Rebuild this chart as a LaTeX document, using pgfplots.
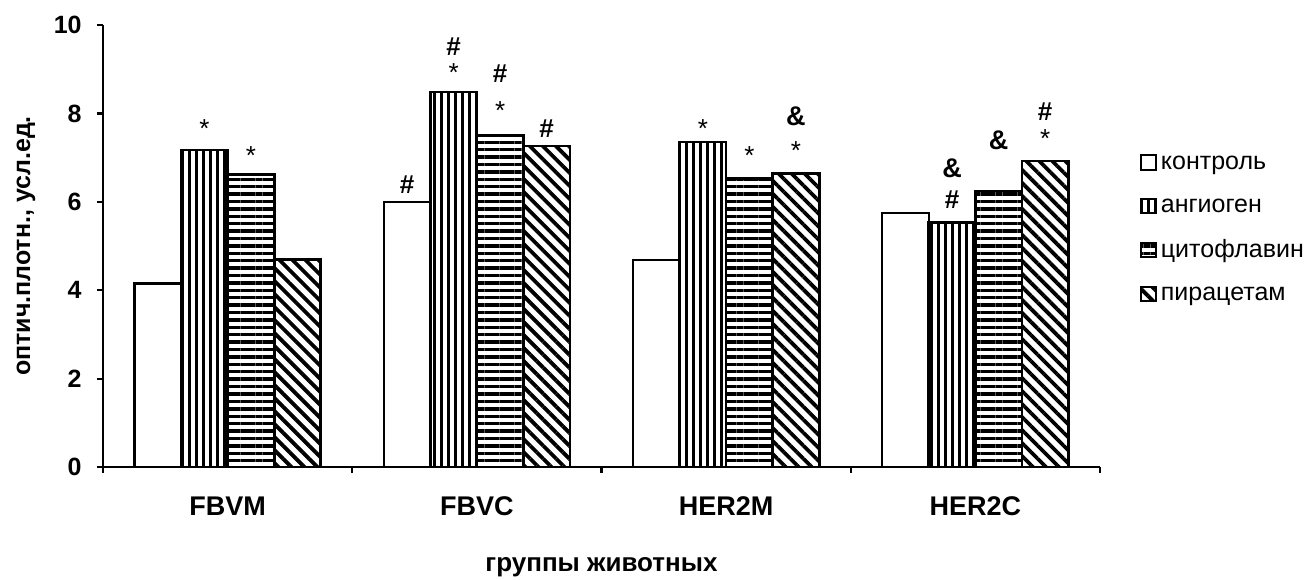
\documentclass[border=0pt]{standalone}
\usepackage{fontspec}
\setmainfont{Liberation Sans}
\usepackage{pgfplots}
\pgfplotsset{compat=1.18}
\usetikzlibrary{patterns.meta}
\pgfplotsset{mylegend/.style={legend image code/.code={\draw[##1,line width=1.1pt] (0pt,-3.6pt) rectangle (7.2pt,3.6pt);}}}
\begin{document}
\begin{tikzpicture}
\path[use as bounding box] (-51.5pt,-56pt) rectangle (602pt,233.5pt);
\begin{axis}[
  at={(0pt,0pt)}, anchor=south west,
  scale only axis, width=498.5pt, height=221pt,
  xmin=-0.5, xmax=3.5, ymin=0, ymax=10,
  axis lines*=left, axis line style={line width=1.1pt},
  ytick={0,2,...,10}, minor ytick={0,2,...,10},
  xtick={0,1,2,3}, xticklabels={FBVM,FBVC,HER2M,HER2C},
  minor xtick={-0.5,0.5,1.5,2.5,3.5},
  tick align=outside, major tick length=0pt, minor tick length=3pt,
  every tick/.style={line width=1.1pt, black},
  /pgf/number format/assume math mode=true,
  xticklabel style={font=\fontsize{13.5}{14}\selectfont\bfseries, anchor=center, yshift=-19.5pt},
  yticklabel style={font=\fontsize{12.5}{14}\selectfont\bfseries, anchor=east, inner sep=0pt, xshift=-10.5pt},
  ylabel={оптич.плотн., усл.ед.},
  ylabel style={at={(axis description cs:-0.0772,0.5)}, anchor=center, font=\fontsize{12.5}{14}\selectfont\bfseries},
  xlabel={группы животных},
  xlabel style={at={(axis description cs:0.5,-0.2262)}, anchor=center, font=\fontsize{13}{14}\selectfont\bfseries},
  legend style={at={(1.04,0.540)}, anchor=west, draw=none, fill=none, inner sep=0pt,
    font=\fontsize{12.5}{12}\selectfont, row sep=7.8pt,
    /tikz/every even column/.append style={column sep=3pt}},
  legend cell align=left,
  clip=false,
]
\addplot[ybar, bar width=0.187, bar shift=-0.28, draw=black, line width=1.2pt, fill=white, mylegend]
  coordinates {(0,4.15) (1,5.99) (2,4.69) (3,5.74)};
\addplot[ybar, bar width=0.187, bar shift=-0.0935, draw=black, line width=1.3pt, fill=white,
  pattern={Lines[angle=90, distance=3.5pt, line width=1.5pt]}, mylegend]
  coordinates {(0,7.17) (1,8.48) (2,7.35) (3,5.53)};
\addplot[ybar, bar width=0.187, bar shift=0.0935, draw=black, line width=1.3pt, fill=white,
  pattern={Lines[angle=0, distance=3.7pt, line width=1.7pt]}, mylegend]
  coordinates {(0,6.62) (1,7.50) (2,6.53) (3,6.24)};
\addplot[ybar, bar width=0.187, bar shift=0.28, draw=black, line width=1.3pt, fill=white,
  pattern={Lines[angle=-45, distance=4.6pt, line width=1.9pt]}, mylegend]
  coordinates {(0,4.69) (1,7.26) (2,6.64) (3,6.92)};
\legend{\strut контроль, \strut ангиоген, \strut цитофлавин, \strut пирацетам}
% annotations
\addplot[forget plot, only marks, black, mark=text, text mark={*}, text mark as node=true,
  text mark style={font=\fontsize{13}{13}\selectfont, inner sep=0pt}]
  coordinates {(-0.0935,7.66) (0.0935,7.04) (0.9065,8.93) (1.0935,8.06) (1.9065,7.66) (2.0935,7.04) (2.28,7.16) (3.28,7.42)};
\addplot[forget plot, only marks, black, mark=text, text mark={\#}, text mark as node=true,
  text mark style={font=\fontsize{13}{13}\selectfont\bfseries, inner sep=0pt}]
  coordinates {(0.72,6.38) (0.9065,9.50) (1.0935,8.91) (1.28,7.66) (2.9065,6.04) (3.28,8.04)};
\addplot[forget plot, only marks, black, mark=text, text mark={\&}, text mark as node=true,
  text mark style={font=\fontsize{13.5}{13}\selectfont\bfseries, inner sep=0pt}]
  coordinates {(2.28,7.93) (2.9065,6.76) (3.0935,7.40)};
\end{axis}
\end{tikzpicture}
\end{document}
